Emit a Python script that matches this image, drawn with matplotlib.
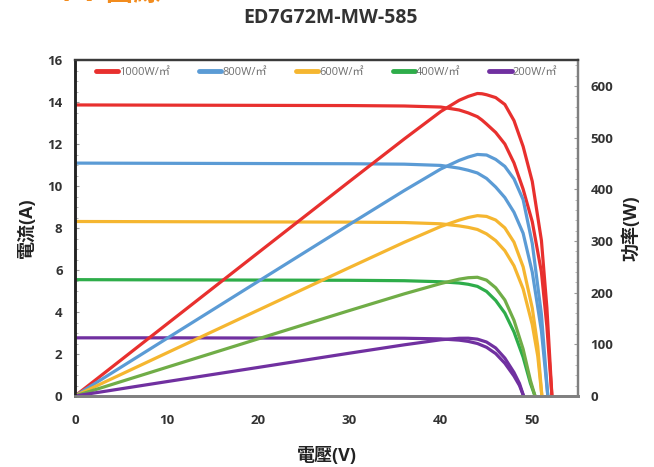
import numpy as np
import matplotlib
matplotlib.use("Agg")
import matplotlib.pyplot as plt
from matplotlib.ticker import MultipleLocator

plt.rcParams['font.family'] = ['Open Sans', 'Noto Sans CJK TC', 'DejaVu Sans']

# ----------------------------------------------------------------------------
# data
labels = ["1000W/㎡", "800W/㎡", "600W/㎡", "400W/㎡", "200W/㎡"]

# 1000 W/m2
v1000 = [0, 10, 20, 30, 36, 40, 42, 43, 44, 44.5, 45, 46, 47, 48, 49, 50, 51, 51.6, 52.15]
i1000 = [13.86, 13.85, 13.84, 13.83, 13.81, 13.76, 13.62, 13.48, 13.30, 13.14, 12.95, 12.55, 12.00, 11.10, 9.85, 8.30, 5.90, 3.30, 0]
p1000 = [0, 138.5, 276.8, 414.9, 497.2, 550.4, 572.0, 579.6, 585.2, 584.7, 582.8, 577.3, 564.0, 532.8, 482.7, 415.0, 300.9, 170.3, 0]

# 800 W/m2
v800 = [0, 10, 20, 30, 36, 40, 42, 43, 44, 45, 46, 47, 48, 49, 50, 51, 51.7]
i800 = [11.09, 11.08, 11.07, 11.06, 11.04, 10.98, 10.85, 10.75, 10.62, 10.36, 9.95, 9.45, 8.75, 7.75, 5.90, 3.10, 0]
p800 = [0, 110.8, 221.4, 331.8, 397.4, 439.2, 455.7, 462.3, 467.3, 466.2, 457.7, 444.2, 420.0, 379.8, 295.0, 158.1, 0]

# 600 W/m2
v600 = [0, 10, 20, 30, 36, 40, 42, 43, 44, 45, 46, 47, 48, 49, 50, 50.6, 51.05]
i600 = [8.31, 8.30, 8.29, 8.28, 8.26, 8.20, 8.10, 8.03, 7.93, 7.72, 7.40, 6.92, 6.20, 5.10, 3.40, 1.90, 0]
p600 = [0, 83.0, 165.8, 248.4, 297.4, 328.0, 340.2, 345.3, 348.9, 347.4, 340.4, 325.2, 297.6, 249.9, 170.0, 96.1, 0]

# 400 W/m2
v400 = [0, 10, 20, 30, 36, 40, 42, 43, 44, 45, 46, 47, 48, 49, 49.8, 50.3]
i400 = [5.54, 5.53, 5.52, 5.51, 5.49, 5.44, 5.38, 5.32, 5.22, 4.98, 4.55, 3.95, 3.05, 1.85, 0.60, 0]
p400 = [0, 55.3, 110.4, 165.3, 197.6, 217.6, 226.0, 228.8, 229.7, 224.1, 209.3, 185.7, 146.4, 90.7, 29.9, 0]

# 200 W/m2
v200 = [0, 10, 20, 30, 36, 40, 42, 43, 44, 45, 46, 47, 48, 48.6, 49.05]
i200 = [2.77, 2.77, 2.76, 2.76, 2.75, 2.72, 2.66, 2.60, 2.50, 2.32, 2.02, 1.56, 0.95, 0.50, 0]
p200 = [0, 27.7, 55.2, 82.8, 99.0, 108.8, 111.7, 111.8, 110.0, 104.4, 92.9, 73.3, 45.6, 24.3, 0]

volts = [v1000, v800, v600, v400, v200]
amps = [i1000, i800, i600, i400, i200]
watts = [p1000, p800, p600, p400, p200]

iv_colors = ['#E8302E', '#5B9BD5', '#F5B630', '#2EAD4A', '#7030A0']
pv_colors = ['#E8302E', '#5B9BD5', '#F5B630', '#70AD47', '#7030A0']

# ----------------------------------------------------------------------------
fig = plt.figure(figsize=(6.54, 4.67), dpi=100)
ax = fig.add_axes([75/654, 1-396/467, (578-75)/654, (396-60)/467])
ax2 = ax.twinx()

handles = []
for v, i, c, lab in zip(volts, amps, iv_colors, labels):
    h, = ax.plot(v, i, color=c, lw=2.3, solid_capstyle='round',
                 solid_joinstyle='round', label=lab)
    handles.append(h)
for v, p, c in zip(volts, watts, pv_colors):
    ax2.plot(v, p, color=c, lw=2.3, solid_capstyle='round', solid_joinstyle='round')

ax.set_xlim(0, 55)
ax.set_ylim(0, 16)
ax2.set_ylim(0, 650)

ax.xaxis.set_major_locator(MultipleLocator(10))
ax.yaxis.set_major_locator(MultipleLocator(2))
ax.yaxis.set_minor_locator(MultipleLocator(0.5))
ax2.yaxis.set_major_locator(MultipleLocator(100))
ax2.yaxis.set_minor_locator(MultipleLocator(20))

ax.tick_params(axis='x', which='both', length=0, pad=13)
ax.tick_params(axis='y', which='major', direction='in', length=3, color='#999999', pad=9)
ax.tick_params(axis='y', which='minor', direction='in', length=2, color='#aaaaaa')
ax2.tick_params(axis='y', which='major', direction='in', length=3, color='#999999', pad=9)
ax2.tick_params(axis='y', which='minor', direction='in', length=2, color='#aaaaaa')
for lbl in ax.get_xticklabels() + ax.get_yticklabels() + ax2.get_yticklabels():
    lbl.set_fontsize(9.5)
    lbl.set_fontweight('bold')
    lbl.set_color('#333333')

for a in (ax, ax2):
    a.spines['left'].set_color('#222222')
    a.spines['left'].set_linewidth(1.8)
    a.spines['top'].set_color('#3a3a3a')
    a.spines['top'].set_linewidth(1.6)
    a.spines['right'].set_color('#808080')
    a.spines['right'].set_linewidth(1.6)
    a.spines['bottom'].set_color('#808080')
    a.spines['bottom'].set_linewidth(2.0)

ax.set_xlabel("電壓(V)", fontsize=13, fontweight='bold', color='#222222', labelpad=14)
ax.set_ylabel("電流(A)", fontsize=13, fontweight='bold', color='#222222', labelpad=8)
ax2.set_ylabel("功率(W)", fontsize=13, fontweight='bold', color='#222222', rotation=90, labelpad=6)

leg = ax.legend(handles=handles, loc='upper center', bbox_to_anchor=(0.5, 1.01), ncol=5,
                frameon=False, fontsize=8, handlelength=2.0, handletextpad=0.1,
                columnspacing=2.6)
for t in leg.get_texts():
    t.set_color('#6f6f6f')
for lh in leg.get_lines():
    lh.set_linewidth(3.5)

fig.text(0.505, 1-18/467, "ED7G72M-MW-585", ha='center', va='center',
         fontsize=14, fontweight='bold', color='#333333')
# orange heading cut off at the top edge of the picture
fig.text(0.095, 1-1/467, "I-V 曲線", ha='left', va='baseline',
         fontsize=20, fontweight='bold', color='#F28C1E')

fig.savefig("out.png", dpi=100)
